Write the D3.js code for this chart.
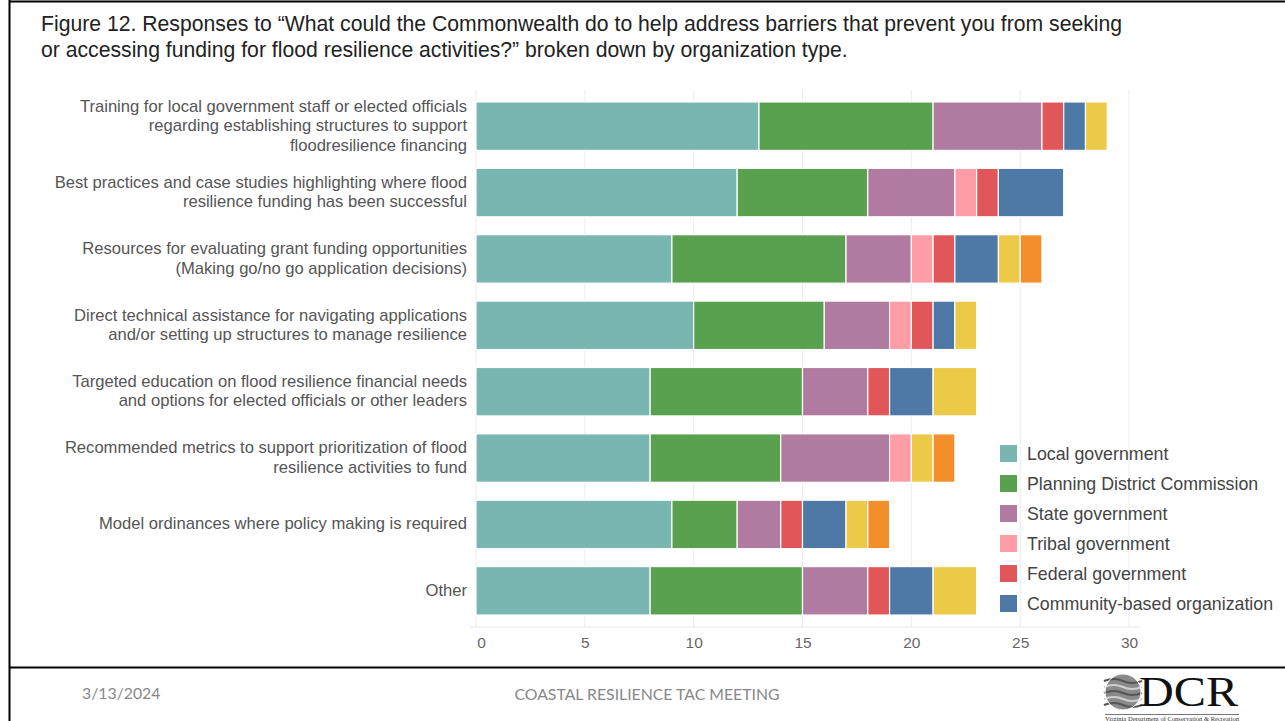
<!DOCTYPE html>
<html>
<head>
<meta charset="utf-8">
<script src="https://cdn.jsdelivr.net/npm/d3@7"></script>
<style>
  body { margin: 0; background: #fff; }
  svg { display: block; }
</style>
</head>
<body>
<div id="chart"></div>
<script>
// barrier categories, top to bottom (lines split where the original wraps)
const categories = [
  ["Training for local government staff or elected officials", "regarding establishing structures to support", "floodresilience financing"],
  ["Best practices and case studies highlighting where flood", "resilience funding has been successful"],
  ["Resources for evaluating grant funding opportunities", "(Making go/no go application decisions)"],
  ["Direct technical assistance for navigating applications", "and/or setting up structures to manage resilience"],
  ["Targeted education on flood resilience financial needs", "and options for elected officials or other leaders"],
  ["Recommended metrics to support prioritization of flood", "resilience activities to fund"],
  ["Model ordinances where policy making is required"],
  ["Other"]
];

// organization types (last two are cut off in the original legend)
const orgTypes = ["Local government", "Planning District Commission", "State government",
  "Tribal government", "Federal government", "Community-based organization",
  "Nonprofit organization", "Other organization"];
const orgColors = ["#79b6b1", "#59a14f", "#b07aa1", "#ff9da7", "#e15759", "#4e79a7", "#edc948", "#f28e2b"];
const legendShown = 6;

// responses per category, one array per organization type
const localGov   = [13, 12, 9, 10, 8, 8, 9, 8];
const pdc        = [8, 6, 8, 6, 7, 6, 3, 7];
const stateGov   = [5, 4, 3, 3, 3, 5, 2, 3];
const tribalGov  = [0, 1, 1, 1, 0, 1, 0, 0];
const federalGov = [1, 1, 1, 1, 1, 0, 1, 1];
const cbo        = [1, 3, 2, 1, 2, 0, 2, 2];
const nonprofit  = [1, 0, 1, 1, 2, 1, 1, 2];
const otherOrg   = [0, 0, 1, 0, 0, 1, 1, 0];
const seriesValues = [localGov, pdc, stateGov, tribalGov, federalGov, cbo, nonprofit, otherOrg];

const xTicks = [0, 5, 10, 15, 20, 25, 30];

const W = 1285, H = 721;
const svg = d3.select("#chart").append("svg").attr("width", W).attr("height", H);
const sans = "'Liberation Sans', Arial, sans-serif";

// slide frame
svg.append("line").attr("x1", 9.5).attr("x2", W).attr("y1", 1.5).attr("y2", 1.5).attr("stroke", "#000").attr("stroke-width", 2);
svg.append("line").attr("x1", 9.5).attr("x2", 9.5).attr("y1", 0).attr("y2", H).attr("stroke", "#000").attr("stroke-width", 2);
svg.append("line").attr("x1", 9.5).attr("x2", W).attr("y1", 667.5).attr("y2", 667.5).attr("stroke", "#000").attr("stroke-width", 2);

// title
const title = svg.append("text")
  .attr("font-family", sans).attr("font-size", 21.2).attr("fill", "#222");
title.append("tspan").attr("x", 41).attr("y", 31)
  .text("Figure 12. Responses to \u201cWhat could the Commonwealth do to help address barriers that prevent you from seeking");
title.append("tspan").attr("x", 41).attr("y", 57)
  .text("or accessing funding for flood resilience activities?\u201d broken down by organization type.");

const table = categories.map((c, i) => {
  const row = { idx: i };
  orgTypes.forEach((o, j) => { row[o] = seriesValues[j][i]; });
  return row;
});

const x = d3.scaleLinear().domain([0, 30]).range([476, 1129]);
const y = d3.scaleBand().domain(d3.range(categories.length)).range([93, 624])
  .paddingInner(0.27).paddingOuter(0.135);
const color = d3.scaleOrdinal().domain(orgTypes).range(orgColors);

// grid
svg.append("g").selectAll("line").data(xTicks).join("line")
  .attr("x1", d => x(d)).attr("x2", d => x(d))
  .attr("y1", 90).attr("y2", 627)
  .attr("stroke", "#ececec").attr("stroke-width", 1);

// x axis
const xAxis = svg.append("g").attr("transform", "translate(0,627)")
  .call(d3.axisBottom(x).tickValues(xTicks).tickSize(0).tickPadding(10));
xAxis.select(".domain").attr("stroke", "#e6e6e6").attr("d", "M470,0H1140");
xAxis.selectAll("text").attr("font-family", sans)
  .attr("font-size", 15.5).attr("fill", "#666")
  .attr("dx", d => d === 0 ? 5 : 0);

// stacked bars
const stacked = d3.stack().keys(orgTypes)(table);
svg.append("g").selectAll("g").data(stacked).join("g")
  .attr("fill", d => color(d.key))
  .selectAll("rect").data(d => d.filter(s => s[1] > s[0])).join("rect")
  .attr("x", d => x(d[0]))
  .attr("y", d => y(d.data.idx))
  .attr("width", d => x(d[1]) - x(d[0]))
  .attr("height", y.bandwidth())
  .attr("stroke", "#fff").attr("stroke-width", 1.2);

// category labels
const lineH = 19.5;
const labels = svg.append("g")
  .attr("font-family", sans).attr("font-size", 16.6).attr("fill", "#555").attr("text-anchor", "end");
categories.forEach((lines, i) => {
  const cy = y(i) + y.bandwidth() / 2;
  const t = labels.append("text");
  lines.forEach((ln, k) => {
    t.append("tspan").attr("x", 467)
      .attr("y", cy + (k - (lines.length - 1) / 2) * lineH + 5)
      .text(ln);
  });
});

// legend
const legend = svg.append("g").attr("transform", "translate(1000,445)");
orgTypes.slice(0, legendShown).forEach((o, i) => {
  const g = legend.append("g").attr("transform", `translate(0,${i * 30})`);
  g.append("rect").attr("width", 17).attr("height", 17).attr("fill", color(o));
  g.append("text").attr("x", 27).attr("y", 14.5)
    .attr("font-family", sans).attr("font-size", 17.8).attr("fill", "#444").text(o);
});

// footer
svg.append("text").attr("x", 82).attr("y", 699)
  .attr("font-family", "Lato, 'Open Sans', sans-serif").attr("font-size", 15.8)
  .attr("fill", "#888").text("3/13/2024");
svg.append("text").attr("x", 647).attr("y", 700).attr("text-anchor", "middle")
  .attr("font-family", "Lato, 'Open Sans', sans-serif").attr("font-size", 15.8)
  .attr("fill", "#888").text("COASTAL RESILIENCE TAC MEETING");

// DCR logo
const logo = svg.append("g").attr("transform", "translate(1123,692)");
logo.append("circle").attr("r", 18).attr("fill", "#8a8a8a");
[-11, -5, 1, 7, 13].forEach((dy, i) => {
  logo.append("path")
    .attr("d", `M-19,${dy} Q-9,${dy - 4} 0,${dy} T19,${dy}`)
    .attr("fill", "none").attr("stroke", i % 2 ? "#cfcfcf" : "#555").attr("stroke-width", 2.2);
});
logo.append("circle").attr("r", 18).attr("fill", "none").attr("stroke", "#fff").attr("stroke-width", 1);
svg.append("text").attr("x", 1139).attr("y", 706)
  .attr("font-family", "'Liberation Serif', 'DejaVu Serif', serif").attr("font-size", 42)
  .attr("fill", "#111").attr("textLength", 99).attr("lengthAdjust", "spacingAndGlyphs").text("DCR");
svg.append("text").attr("x", 1105).attr("y", 720.5)
  .attr("font-family", "'Liberation Serif', serif").attr("font-size", 5.2)
  .attr("fill", "#333").attr("textLength", 134).attr("lengthAdjust", "spacingAndGlyphs")
  .text("Virginia Department of Conservation & Recreation");
svg.append("line").attr("x1", 1105).attr("x2", 1239).attr("y1", 714.5).attr("y2", 714.5)
  .attr("stroke", "#555").attr("stroke-width", 0.8);
</script>
</body>
</html>
